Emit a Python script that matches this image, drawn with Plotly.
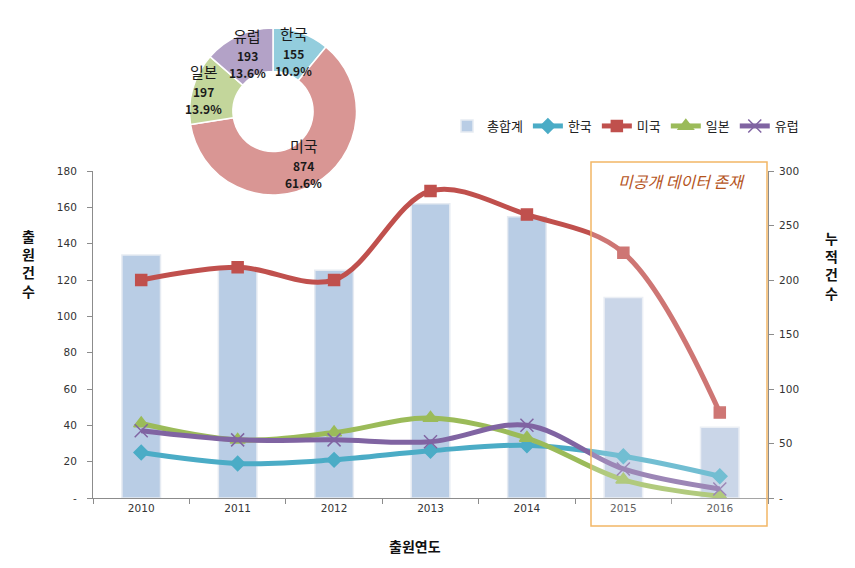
import math
import plotly.graph_objects as go

years = ["2010", "2011", "2012", "2013", "2014", "2015", "2016"]
korea = [25, 19, 21, 26, 29, 23, 12]
usa = [120, 127, 120, 169, 156, 135, 47]
japan = [41, 32, 36, 44, 33, 10, 1]
europe = [37, 32, 32, 31, 40, 16, 5]
series_names = ["한국", "미국", "일본", "유럽"]
left_ticks = [0, 20, 40, 60, 80, 100, 120, 140, 160, 180]
right_ticks = [0, 50, 100, 150, 200, 250, 300]

totals = [a + b + c + d for a, b, c, d in zip(korea, usa, japan, europe)]
pie_values = [sum(korea), sum(usa), sum(japan), sum(europe)]

line_colors = ["#4bacc6", "#c0504d", "#9bbb59", "#8064a2"]
pie_colors = ["#93cddd", "#d99694", "#c3d69b", "#b3a2c7"]
markers = ["diamond", "square", "triangle-up", "x-thin"]
msizes = [11, 11, 13, 13]

KFONT = "Noto Sans CJK KR"
NFONT = "DejaVu Sans"

W, H = 855, 568
L, R, T, B = 93, 87, 20, 70
pw, ph = W - L - R, H - T - B
ytop_px = 171


def px2paper(x, y):
    return (x - L) / pw, (H - B - y) / ph


fig = go.Figure()

bar_colors = ["#b9cde5"] * 5 + ["#bccbe2"] * 2
fig.add_trace(go.Bar(
    x=years, y=totals, name="총합계", yaxis="y",
    marker=dict(color=bar_colors, line=dict(color="#e6ebf2", width=1.5)),
    width=0.4,
))

for name, vals, col, mk, ms in zip(series_names, [korea, usa, japan, europe],
                                    line_colors, markers, msizes):
    fig.add_trace(go.Scatter(
        x=years, y=vals, name=name, yaxis="y2", mode="lines+markers",
        line=dict(color=col, width=5, shape="spline", smoothing=1),
        marker=dict(symbol=mk, size=ms, color=col,
                    line=dict(color=col, width=1.5)),
    ))

# donut
cx, cy = 273, 111.5
d0x, d0y = px2paper(cx - 83.5, cy + 83.5)
d1x, d1y = px2paper(cx + 83.5, cy - 83.5)
fig.add_trace(go.Pie(
    labels=series_names, values=pie_values, hole=0.48, sort=False,
    direction="clockwise", rotation=0,
    marker=dict(colors=pie_colors, line=dict(color="white", width=1.5)),
    textinfo="none", hoverinfo="label+value+percent", showlegend=False,
    domain=dict(x=[d0x, d1x], y=[d0y, d1y]),
))

total_sum = sum(pie_values)
cum = 0
annotations = []
for name, v in zip(series_names, pie_values):
    mid = (cum + v / 2) / total_sum * 2 * math.pi
    cum += v
    r = 62 if name != "일본" else 72
    tx = cx + r * math.sin(mid)
    ty = cy - r * math.cos(mid)
    pct = v / total_sum * 100
    # name line, value line, percent line
    for dy, txt, fs in [(-20, name, 15), (0, f"<b>{v}</b>", 12),
                        (17, f"<b>{pct:.1f}%</b>", 12)]:
        ax, ay = px2paper(tx, ty + dy)
        annotations.append(dict(
            x=ax, y=ay, xref="paper", yref="paper", showarrow=False,
            xanchor="center", yanchor="middle", text=txt,
            font=dict(family=KFONT, size=fs, color="#1a1a1a"),
        ))

# axis titles
annotations.append(dict(
    x=px2paper(28, 0)[0], y=px2paper(0, 263)[1], xref="paper", yref="paper",
    xanchor="center", yanchor="middle",
    showarrow=False, text="<b>출<br>원<br>건<br>수</b>",
    font=dict(family=KFONT, size=14, color="#111"),
))
annotations.append(dict(
    x=px2paper(831, 0)[0], y=px2paper(0, 265)[1], xref="paper", yref="paper",
    xanchor="center", yanchor="middle",
    showarrow=False, text="<b>누<br>적<br>건<br>수</b>",
    font=dict(family=KFONT, size=14, color="#111"),
))
annotations.append(dict(
    x=px2paper(415, 0)[0], y=px2paper(0, 546)[1], xref="paper", yref="paper",
    xanchor="center", yanchor="middle",
    showarrow=False, text="<b>출원연도</b>",
    font=dict(family=KFONT, size=14, color="#111"),
))
annotations.append(dict(
    x=px2paper(681, 0)[0], y=px2paper(0, 181)[1], xref="paper", yref="paper",
    xanchor="center", yanchor="middle",
    showarrow=False, text="<i>미공개 데이터 존재</i>",
    font=dict(family=KFONT, size=16, color="#b5541c"),
))

bx0, by0 = px2paper(591, 526)
bx1, by1 = px2paper(767, 162)
shapes = [dict(
    type="rect", xref="paper", yref="paper", x0=bx0, x1=bx1, y0=by0, y1=by1,
    line=dict(color="#f2b766", width=1.5), fillcolor="rgba(255,255,255,0.22)",
    layer="above",
)]

ydom_top = (H - B - ytop_px) / ph

fig.update_layout(
    width=W, height=H, margin=dict(l=L, r=R, t=T, b=B),
    paper_bgcolor="white", plot_bgcolor="white",
    font=dict(family=NFONT, size=11, color="#333"),
    xaxis=dict(
        type="category", range=[-0.5, 6.5], showline=True, linecolor="#8c8c8c",
        linewidth=1, ticks="outside", tickson="boundaries", ticklen=5,
        tickcolor="#8c8c8c", showgrid=False, tickfont=dict(size=10.5, color="#333"),
    ),
    yaxis=dict(
        domain=[0, ydom_top], side="right", range=[0, 300],
        tickvals=right_ticks,
        ticktext=["-" if t == 0 else str(t) for t in right_ticks],
        showline=True, linecolor="#8c8c8c", ticks="outside", ticklen=5,
        tickcolor="#8c8c8c", showgrid=False, zeroline=False,
        tickfont=dict(size=10.5, color="#333"), ticklabelstandoff=3,
    ),
    yaxis2=dict(
        overlaying="y", side="left", range=[0, 180], tickvals=left_ticks,
        ticktext=["-" if t == 0 else str(t) for t in left_ticks],
        showline=True, linecolor="#8c8c8c", ticks="outside", ticklen=5,
        tickcolor="#8c8c8c", showgrid=False, zeroline=False,
        tickfont=dict(size=10.5, color="#333"), ticklabelstandoff=8,
    ),
    legend=dict(
        orientation="h", x=px2paper(447, 0)[0], y=px2paper(0, 126)[1],
        xanchor="left", yanchor="middle", font=dict(family=KFONT, size=13, color="#222"),
        bgcolor="rgba(0,0,0,0)", itemwidth=30, tracegroupgap=0,
    ),
    annotations=annotations, shapes=shapes,
)

fig.write_html("out.html", config={"displayModeBar": False},
               post_script="document.body.style.margin='0';")
